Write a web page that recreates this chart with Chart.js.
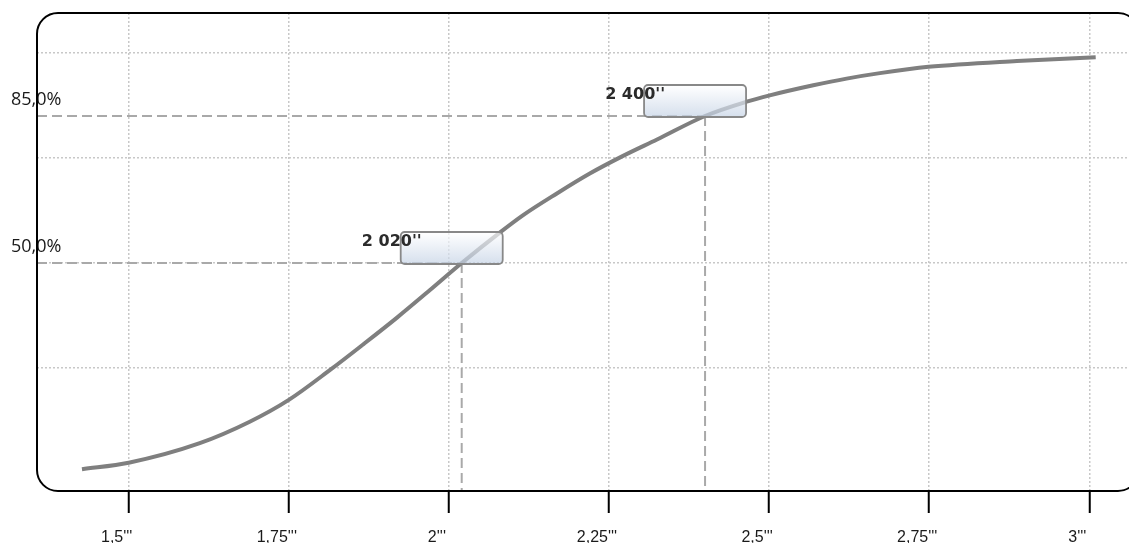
<!DOCTYPE html>
<html>
<head>
    <title>Cumulative curve</title>
    <script src="https://cdn.jsdelivr.net/npm/chart.js"></script>
    <style>
        body { margin: 0; background: #fff; }
    </style>
</head>
<body>
    <canvas id="curveChart" width="1129" height="543"></canvas>
    <script>
        // curve (x value, cumulative %)
        const xValues = [1.427, 1.5, 1.611, 1.689, 1.75, 1.815, 1.866, 1.919, 1.97, 2.02, 2.08, 2.116, 2.168, 2.22, 2.272, 2.325, 2.4, 2.465, 2.501, 2.569, 2.621, 2.673, 2.749, 2.887, 3.01];
        const yValues = [0.9, 2.45, 7.1, 12.2, 17.4, 24.6, 30.6, 37.0, 43.5, 50, 57.3, 61.4, 66.5, 71.3, 75.5, 79.4, 85, 88.4, 89.9, 92.3, 93.9, 95.2, 96.7, 98.1, 99.0];

        const xTicks = [1.5, 1.75, 2, 2.25, 2.5, 2.75, 3];
        const xTickLabels = ["1,5'''", "1,75'''", "2'''", "2,25'''", "2,5'''", "2,75'''", "3'''"];
        const yTickValues = [50, 85];
        const yTickLabels = ['50,0%', '85,0%'];
        const gridValues = [25, 50, 75, 100];

        const markerX = [2.02, 2.4];
        const markerY = [50, 85];
        const markerLabels = ["2 020''", "2 400''"];

        const markers = {
            id: 'markers',
            beforeDatasetsDraw(chart) {
                const { ctx, chartArea, scales: { x, y } } = chart;
                ctx.save();
                ctx.strokeStyle = '#a9a9a9';
                ctx.lineWidth = 2;
                ctx.setLineDash([10, 5]);
                markerX.forEach((mx, i) => {
                    const px = x.getPixelForValue(mx);
                    const py = y.getPixelForValue(markerY[i]);
                    ctx.beginPath();
                    ctx.moveTo(chartArea.left, py);
                    ctx.lineTo(px, py);
                    ctx.moveTo(px, py);
                    ctx.lineTo(px, chartArea.bottom);
                    ctx.stroke();
                });
                ctx.restore();
            },
            afterDatasetsDraw(chart) {
                const { ctx, chartArea, scales: { x, y } } = chart;
                ctx.save();
                markerX.forEach((mx, i) => {
                    const px = x.getPixelForValue(mx);
                    const py = y.getPixelForValue(markerY[i]);
                    const left = px - 61, top = py - 31, w = 102, h = 32;
                    const g = ctx.createLinearGradient(0, top, 0, top + h);
                    g.addColorStop(0, '#ffffff');
                    g.addColorStop(1, '#c3d1e4');
                    ctx.globalAlpha = 0.7;
                    ctx.beginPath();
                    ctx.roundRect(left, top, w, h, 4);
                    ctx.fillStyle = g;
                    ctx.fill();
                    ctx.globalAlpha = 1;
                    ctx.strokeStyle = '#888';
                    ctx.lineWidth = 1.8;
                    ctx.stroke();
                    ctx.fillStyle = '#2b2b2b';
                    ctx.font = 'bold 16px "DejaVu Sans"';
                    ctx.textAlign = 'right';
                    ctx.textBaseline = 'middle';
                    ctx.fillText(markerLabels[i], left + 21, top + 10);
                });
                // rounded frame
                ctx.strokeStyle = '#000';
                ctx.lineWidth = 2;
                ctx.beginPath();
                ctx.roundRect(chartArea.left, chartArea.top, 1139 - chartArea.left, chartArea.bottom - chartArea.top, 21);
                ctx.stroke();
                ctx.restore();
            }
        };

        new Chart(document.getElementById('curveChart'), {
            type: 'line',
            data: {
                datasets: [{
                    data: xValues.map((v, i) => ({ x: v, y: yValues[i] })),
                    borderColor: '#7f7f7f',
                    borderWidth: 4,
                    pointRadius: 0,
                    cubicInterpolationMode: 'monotone',
                    fill: false
                }]
            },
            options: {
                responsive: false,
                animation: false,
                layout: { padding: { top: 13, right: 0, left: 0, bottom: 0 } },
                plugins: { legend: { display: false }, tooltip: { enabled: false } },
                scales: {
                    x: {
                        type: 'linear',
                        min: 1.3568,
                        max: 3.062,
                        afterBuildTicks: s => { s.ticks = xTicks.map(v => ({ value: v })); },
                        afterFit: s => { s.height = 52; },
                        border: { display: false, dash: [2, 2] },
                        grid: {
                            color: '#c8c8c8',
                            lineWidth: 1.5,
                            tickColor: '#000',
                            tickWidth: 2,
                            tickLength: 22,
                            tickBorderDash: []
                        },
                        ticks: {
                            callback: (v, i) => xTickLabels[i],
                            labelOffset: -12,
                            padding: 15,
                            maxRotation: 0,
                            color: '#1a1a1a',
                            font: { family: '"Liberation Sans", Arial', size: 16 }
                        }
                    },
                    yGrid: {
                        type: 'linear',
                        position: 'left',
                        min: -4.29,
                        max: 109.52,
                        afterBuildTicks: s => { s.ticks = gridValues.map(v => ({ value: v })); },
                        afterFit: s => { s.width = 0; },
                        border: { display: false, dash: [2, 2] },
                        grid: { color: '#c8c8c8', lineWidth: 1.5, drawTicks: false },
                        ticks: { display: false }
                    },
                    y: {
                        type: 'linear',
                        position: 'left',
                        min: -4.29,
                        max: 109.52,
                        afterBuildTicks: s => { s.ticks = yTickValues.map(v => ({ value: v })); },
                        afterFit: s => { s.width = 37; },
                        border: { display: false },
                        grid: { display: false, drawTicks: false },
                        ticks: {
                            callback: (v, i) => yTickLabels[i],
                            mirror: true,
                            labelOffset: -16,
                            padding: -26,
                            color: '#1a1a1a',
                            font: { family: '"Open Sans"', size: 18 }
                        }
                    }
                }
            },
            plugins: [markers]
        });
    </script>
</body>
</html>
